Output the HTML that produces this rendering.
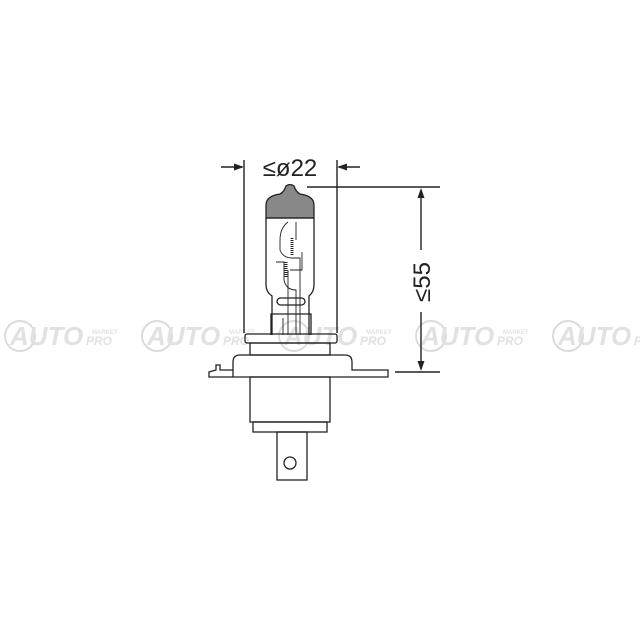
<!DOCTYPE html>
<html><head><meta charset="utf-8"><style>html,body{margin:0;padding:0;background:#fff}svg{display:block}</style></head>
<body>
<svg width="640" height="640" viewBox="0 0 640 640" xmlns="http://www.w3.org/2000/svg">
<defs>
<g id="wm" opacity="0.35">
<circle cx="18" cy="0" r="15" fill="none" stroke="#999" stroke-width="2"/>
<text x="8" y="9" font-family="Liberation Sans, sans-serif" font-weight="bold" font-style="italic" font-size="26" fill="#aaa">AUTO</text>
<text x="90" y="-2" font-family="Liberation Sans, sans-serif" font-weight="bold" font-size="6" fill="#aaa">MARKET</text>
<text x="84" y="9" font-family="Liberation Sans, sans-serif" font-weight="bold" font-style="italic" font-size="12" fill="#aaa">PRO</text>
</g>
</defs>
<use href="#wm" x="2" y="336"/>
<use href="#wm" x="139" y="336"/>
<use href="#wm" x="276" y="336"/>
<use href="#wm" x="413" y="336"/>
<use href="#wm" x="550" y="336"/>

<g fill="none" stroke="#222" stroke-width="1.4">
<line x1="244" y1="160" x2="244" y2="333"/>
<line x1="337" y1="160" x2="337" y2="333"/>
<line x1="221" y1="167" x2="242" y2="167"/>
<line x1="339" y1="167" x2="360" y2="167"/>
<line x1="307" y1="187" x2="440" y2="187"/>
<line x1="395" y1="372" x2="440" y2="372"/>
<line x1="421" y1="190" x2="421" y2="250"/>
<line x1="421" y1="312" x2="421" y2="369"/>
</g>
<g fill="#222">
<polygon points="244,167 234,163.5 234,170.5"/>
<polygon points="337,167 347,163.5 347,170.5"/>
<polygon points="421,188 417.5,198 424.5,198"/>
<polygon points="421,371 417.5,361 424.5,361"/>
</g>
<text x="290" y="176" text-anchor="middle" font-family="Liberation Sans, DejaVu Sans, sans-serif" font-size="24" fill="#222">≤ø22</text>
<text transform="translate(430,282) rotate(-90)" text-anchor="middle" font-family="Liberation Sans, DejaVu Sans, sans-serif" font-size="24" fill="#222">≤55</text>

<path d="M266,218 L266,205 Q266,196 280,194 Q284,192 286,186 Q290,183 294,186 Q296,192 300,194 Q314,196 314,205 L314,218 Z" fill="#888" stroke="#222" stroke-width="1.3"/>
<g fill="none" stroke="#222" stroke-width="1.3">
<path d="M266,218 L266,285 Q266,292 272,296 L272,335 M314,218 L314,285 Q314,292 309,296 L309,335"/>
<line x1="266" y1="218" x2="314" y2="218"/>
<rect x="277" y="298" width="28" height="7" rx="3.5"/>
<path d="M271,335 L271,314 L311,314 L311,335"/>
<g stroke-width="0.9">
<path d="M288,222 Q280,228 280,240 L280,250 Q283,258 292,258 L300,258 L300,335"/>
<path d="M296,222 L296,240 M302,252 L302,270 L290,270"/>
<path d="M276,262 L284,262 L284,280 Q286,290 296,290 L296,335"/>
<path d="M288,270 L288,335 M283,318 L283,335"/>
</g>
<path d="M292,238 L292,255 M286,262 L286,278" stroke-width="3" stroke-dasharray="1 1"/>
<rect x="245" y="334" width="92" height="9" rx="2"/>
<rect x="250" y="343" width="80" height="12"/>
<path d="M233,377 L233,362 Q233,355 240,355 L345,355 Q352,355 352,362 L352,370 L388,370 L388,377 Z"/>
<path d="M233,370 L220,370 L220,365 L216,365 L216,370 L209,372 L209,377 L233,377"/>
<rect x="250" y="377" width="80" height="45"/>
<rect x="253" y="422" width="74" height="10"/>
<rect x="277" y="432" width="30" height="48"/>
<circle cx="290" cy="463" r="6"/>
</g>
</svg>
</body></html>
